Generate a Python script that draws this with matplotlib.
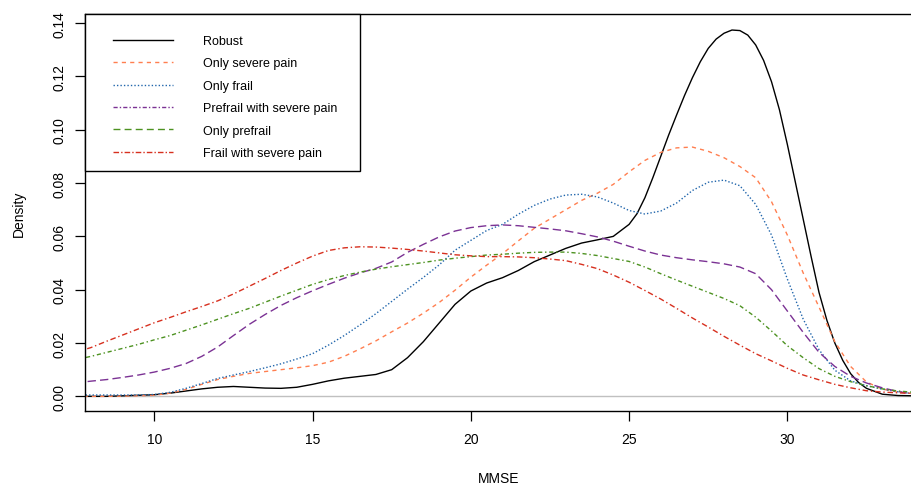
import numpy as np
import matplotlib
matplotlib.use("Agg")
import matplotlib.pyplot as plt
from matplotlib.lines import Line2D
from matplotlib.patches import Rectangle

plt.rcParams['font.family'] = ['Liberation Sans', 'DejaVu Sans']

# MMSE grid (step 0.5) and density values
mmse = [7.5, 8.0, 8.5, 9.0, 9.5, 10.0, 10.5, 11.0, 11.5, 12.0, 12.5, 13.0, 13.5, 14.0,
        14.5, 15.0, 15.5, 16.0, 16.5, 17.0, 17.5, 18.0, 18.5, 19.0, 19.5, 20.0, 20.5,
        21.0, 21.5, 22.0, 22.5, 23.0, 23.5, 24.0, 24.5, 25.0, 25.5, 26.0, 26.5, 27.0,
        27.5, 28.0, 28.5, 29.0, 29.5, 30.0, 30.5, 31.0, 31.5, 32.0, 32.5, 33.0, 33.5, 34.0]

# robust has a sharp peak, so it is read on a finer grid above 25
robust_x = [7.5, 8.0, 8.5, 9.0, 9.5, 10.0, 10.5, 11.0, 11.5, 12.0, 12.5, 13.0, 13.5, 14.0,
            14.5, 15.0, 15.5, 16.0, 16.5, 17.0, 17.5, 18.0, 18.5, 19.0, 19.5, 20.0, 20.5,
            21.0, 21.5, 22.0, 22.5, 23.0, 23.5, 24.0, 24.5, 25.0, 25.25, 25.5, 25.75, 26.0,
            26.25, 26.5, 26.75, 27.0, 27.25, 27.5, 27.75, 28.0, 28.25, 28.5, 28.75, 29.0,
            29.25, 29.5, 29.75, 30.0, 30.25, 30.5, 30.75, 31.0, 31.25, 31.5, 31.75, 32.0,
            32.25, 32.5, 33.0, 33.5, 34.0]
robust = [0.0, 0.0, 0.0, 0.0002, 0.0004, 0.0006, 0.0012, 0.0020, 0.0028, 0.0034, 0.0037,
          0.0034, 0.0031, 0.0030, 0.0034, 0.0045, 0.0058, 0.0068, 0.0075, 0.0082, 0.0100,
          0.0145, 0.0205, 0.0275, 0.0345, 0.0395, 0.0425, 0.0445, 0.0472, 0.0505, 0.0530,
          0.0555, 0.0575, 0.0587, 0.0600, 0.0645, 0.0685, 0.0745, 0.0820, 0.0900,
          0.0980, 0.1055, 0.1128, 0.1195, 0.1255, 0.1305, 0.1340, 0.1362, 0.1374, 0.1372,
          0.1355, 0.1318, 0.1260, 0.1180, 0.1075, 0.0945, 0.0805, 0.0665, 0.0525, 0.0390,
          0.0285, 0.0200, 0.0135, 0.0085, 0.0052, 0.0030, 0.0008, 0.0003, 0.0002]

only_pain = [0.0, 0.0, 0.0, 0.0001, 0.0002, 0.0004, 0.0012, 0.0026, 0.0045, 0.0063, 0.0075,
             0.0086, 0.0093, 0.0100, 0.0107, 0.0115, 0.0128, 0.0150, 0.0178, 0.0208, 0.0242,
             0.0275, 0.0312, 0.0352, 0.0398, 0.0447, 0.0492, 0.0535, 0.0583, 0.0630, 0.0665,
             0.0700, 0.0735, 0.0762, 0.0795, 0.0842, 0.0885, 0.0915, 0.0932, 0.0935, 0.0919,
             0.0895, 0.0862, 0.0820, 0.0730, 0.0605, 0.0463, 0.0335, 0.0205, 0.0112, 0.0054,
             0.0027, 0.0016, 0.0010]

only_frail = [0.0005, 0.0005, 0.0005, 0.0005, 0.0005, 0.0007, 0.0015, 0.0030, 0.0048, 0.0067,
              0.0080, 0.0093, 0.0107, 0.0122, 0.0140, 0.0160, 0.0192, 0.0228, 0.0268, 0.0310,
              0.0356, 0.0402, 0.0446, 0.0493, 0.0548, 0.0585, 0.0622, 0.0645, 0.0683, 0.0716,
              0.0740, 0.0755, 0.0758, 0.0748, 0.0725, 0.0697, 0.0684, 0.0695, 0.0725, 0.0772,
              0.0803, 0.0811, 0.0790, 0.0720, 0.0605, 0.0440, 0.0290, 0.0175, 0.0098, 0.0058,
              0.0040, 0.0027, 0.0017, 0.0010]

prefrail_pain = [0.0050, 0.0057, 0.0063, 0.0071, 0.0080, 0.0091, 0.0105, 0.0123, 0.0150, 0.0185,
                 0.0228, 0.0270, 0.0307, 0.0341, 0.0370, 0.0396, 0.0420, 0.0443, 0.0463, 0.0480,
                 0.0504, 0.0540, 0.0570, 0.0598, 0.0620, 0.0633, 0.0640, 0.0643, 0.0640, 0.0634,
                 0.0628, 0.0621, 0.0610, 0.0598, 0.0582, 0.0563, 0.0545, 0.0530, 0.0520, 0.0512,
                 0.0505, 0.0497, 0.0485, 0.0460, 0.0400, 0.0320, 0.0240, 0.0165, 0.0112, 0.0075,
                 0.0050, 0.0032, 0.0018, 0.0008]

only_prefrail = [0.0137, 0.0150, 0.0165, 0.0180, 0.0195, 0.0212, 0.0228, 0.0248, 0.0268, 0.0289,
                 0.0310, 0.0330, 0.0353, 0.0376, 0.0398, 0.0420, 0.0438, 0.0453, 0.0466, 0.0477,
                 0.0486, 0.0494, 0.0502, 0.0511, 0.0518, 0.0524, 0.0530, 0.0533, 0.0537, 0.0540,
                 0.0541, 0.0541, 0.0536, 0.0528, 0.0517, 0.0506, 0.0485, 0.0460, 0.0436, 0.0413,
                 0.0390, 0.0367, 0.0340, 0.0297, 0.0245, 0.0190, 0.0145, 0.0104, 0.0075, 0.0055,
                 0.0040, 0.0028, 0.0020, 0.0015]

frail_pain = [0.0165, 0.0183, 0.0207, 0.0230, 0.0253, 0.0276, 0.0296, 0.0317, 0.0337, 0.0358,
              0.0384, 0.0413, 0.0442, 0.0472, 0.0500, 0.0526, 0.0547, 0.0557, 0.0561, 0.0560,
              0.0556, 0.0551, 0.0545, 0.0538, 0.0531, 0.0527, 0.0524, 0.0524, 0.0523, 0.0520,
              0.0515, 0.0509, 0.0495, 0.0479, 0.0455, 0.0428, 0.0397, 0.0365, 0.0330, 0.0294,
              0.0260, 0.0225, 0.0192, 0.0160, 0.0133, 0.0105, 0.0080, 0.0062, 0.0045, 0.0032,
              0.0021, 0.0016, 0.0013, 0.0011]

labels = ['Robust', 'Only severe pain', 'Only frail', 'Prefrail with severe pain',
          'Only prefrail', 'Frail with severe pain']
xs = [robust_x, mmse, mmse, mmse, mmse, mmse]
series = [robust, only_pain, only_frail, prefrail_pain, only_prefrail, frail_pain]
colors = ['black', '#FF7F50', '#2166AC', '#7B3294', '#4D9221', '#D7301F']
# line types of the curves, and the (different) ones shown in the legend
curve_ls = ['-', (0, (3, 3)), (0, (1, 1.5)), (0, (6, 3)), (0, (3, 2, 1, 2)), (0, (4, 2, 1, 2))]
legend_ls = ['-', (0, (3, 3)), (0, (1, 1.5)), (0, (3, 1.5, 1, 1.5)), (0, (5, 3)), (0, (4, 1.5, 1, 1.5))]

x_ticks = [10, 15, 20, 25, 30]
y_ticks = [0.00, 0.02, 0.04, 0.06, 0.08, 0.10, 0.12, 0.14]

fig = plt.figure(figsize=(9.12, 4.89), dpi=100)
ax = fig.add_axes([85 / 912, 77 / 489, 828 / 912, 396.7 / 489])

ax.axhline(0, color='#c0c0c0', linewidth=1.0, zorder=1)
for x, y, c, ls in zip(xs, series, colors, curve_ls):
    ax.plot(x, y, color=c, linestyle=ls, linewidth=1.0, zorder=2)

ax.set_xlim(7.81, 33.97)
ax.set_ylim(-0.0055, 0.1433)
ax.set_xticks(x_ticks)
ax.set_xticklabels([str(t) for t in x_ticks])
ax.set_yticks(y_ticks)
ax.set_yticklabels(['%.2f' % t for t in y_ticks])
ax.tick_params(axis='both', direction='out', length=7, width=0.9, labelsize=10, color='black')
ax.tick_params(axis='x', pad=8)
ax.tick_params(axis='y', pad=6, labelrotation=90)
for lab in ax.get_yticklabels():
    lab.set_verticalalignment('center')

ax.spines['right'].set_visible(False)
for s in ['left', 'bottom', 'top']:
    ax.spines[s].set_linewidth(1.0)
    ax.spines[s].set_color('black')

ax.set_xlabel('MMSE', fontsize=10)
ax.set_ylabel('Density', fontsize=10)
ax.xaxis.set_label_coords(0.5, -0.151)
ax.yaxis.set_label_coords(-0.0713, 0.5)

# legend box
ax.add_patch(Rectangle((0, 0.6058), 0.3321, 0.3942, transform=ax.transAxes,
                       facecolor='white', edgecolor='black', linewidth=1.0, zorder=3,
                       clip_on=False))
handles = [Line2D([0], [0], color=c, linestyle=ls, linewidth=1.0) for c, ls in zip(colors, legend_ls)]
ax.legend(handles, labels, loc='upper left', bbox_to_anchor=(0.0338, 0.9478), frameon=False,
          fontsize=9, handlelength=4.8, handletextpad=2.4, labelspacing=0.835,
          borderpad=0, borderaxespad=0)

fig.savefig('out.png', dpi=100)
